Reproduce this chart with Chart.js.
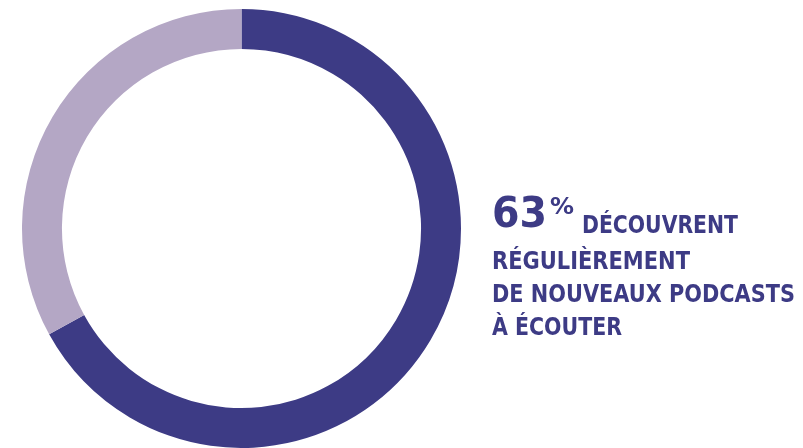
<!DOCTYPE html>
<html>
<head>
<meta charset="utf-8">
<script src="https://cdn.jsdelivr.net/npm/chart.js"></script>
<style>
  html, body { margin: 0; padding: 0; background: #fff; }
  #wrap { width: 803px; height: 448px; position: relative; }
</style>
</head>
<body>
<div id="wrap"><canvas id="myChart" width="803" height="448"></canvas></div>
<script>
var labels = ['Découvrent régulièrement', 'Autres'];
var values = [67, 33];
var colors = ['#3d3b85', '#b4a7c5'];
var bigValue = '63';
var bigUnit = '%';
var textLines = ['DÉCOUVRENT', 'RÉGULIÈREMENT', 'DE NOUVEAUX PODCASTS', 'À ÉCOUTER'];

var textColor = '#3d3b85';
var fam = '"Liberation Sans Narrow", "DejaVu Sans Condensed", sans-serif';

// draw text squeezed to a given width
function fitText(ctx, str, x, y, w) {
  let m = ctx.measureText(str).width;
  ctx.save();
  ctx.translate(x, y);
  ctx.scale(w / m, 1);
  ctx.fillText(str, 0, 0);
  ctx.restore();
}

var labelPlugin = {
  id: 'label',
  afterDraw(chart) {
    const ctx = chart.ctx;
    ctx.save();
    ctx.fillStyle = textColor;
    ctx.textBaseline = 'alphabetic';
    ctx.textAlign = 'left';
    ctx.font = 'bold 43px ' + fam;
    fitText(ctx, bigValue, 492, 227, 55);
    ctx.font = 'bold 23px ' + fam;
    fitText(ctx, bigUnit, 550, 214, 24);
    ctx.font = 'bold 25px ' + fam;
    fitText(ctx, textLines[0], 582, 233, 156);
    fitText(ctx, textLines[1], 492, 269, 198);
    fitText(ctx, textLines[2], 492, 302, 303);
    fitText(ctx, textLines[3], 492, 335, 130);
    ctx.restore();
  }
};

const ctx = document.getElementById('myChart').getContext('2d');
var myChart = new Chart(ctx, {
  type: 'doughnut',
  data: {
    labels: labels,
    datasets: [{
      data: values,
      backgroundColor: colors,
      borderWidth: 0
    }]
  },
  options: {
    responsive: false,
    animation: false,
    cutout: '81.8%',
    layout: { padding: { left: 22, right: 342, top: 9, bottom: 0 } },
    plugins: {
      legend: { display: false },
      tooltip: { enabled: false }
    }
  },
  plugins: [labelPlugin]
});
</script>
</body>
</html>
